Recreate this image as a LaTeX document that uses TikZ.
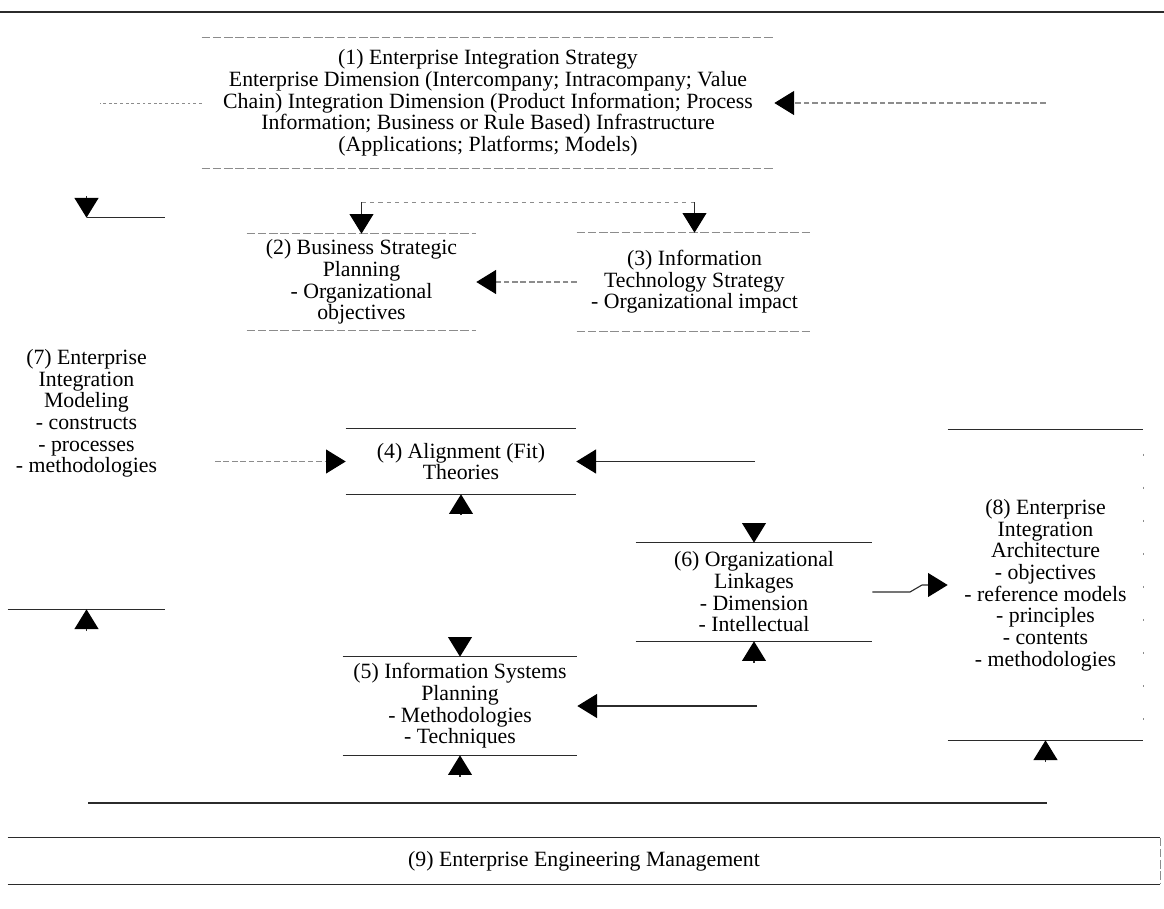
\documentclass[tikz,border=0pt]{standalone}
\usepackage{fontspec}
\setmainfont{Liberation Serif}
\usepackage{tikz}
\usetikzlibrary{arrows.meta}
\definecolor{rulec}{HTML}{2B2B2B}
\definecolor{fadec}{HTML}{8C8C8C}

\begin{document}
\begin{tikzpicture}[x=0.025cm, y=-0.025cm,
  >={Triangle[length=14pt,width=17pt,color=black]},
  box/.style={inner sep=0pt, align=center, font=\fontsize{15.5}{15.4}\selectfont},
  rule/.style={rulec, line width=0.8pt},
  fade/.style={fadec, line width=0.7pt, dash pattern=on 6pt off 2pt},
  link/.style={rulec, line width=0.8pt, ->},
  fadelink/.style={link, fadec, dash pattern=on 4pt off 2pt}]
  \useasboundingbox (0,0) rectangle (1164,908);
  \draw[rulec, line width=1.6pt] (0,12) -- (1164,12);

  \node[box, minimum width=14.3cm, minimum height=3.25cm] (b1) at (488,103)
    {(1) Enterprise Integration Strategy\\
     Enterprise Dimension (Intercompany; Intracompany; Value\\
     Chain) Integration Dimension (Product Information; Process\\
     Information; Business or Rule Based) Infrastructure\\
     (Applications; Platforms; Models)};
  \node[box, minimum width=5.725cm, minimum height=2.4cm] (b2) at (361.5,282)
    {(2) Business Strategic\\ Planning\\ - Organizational\\ objectives};
  \node[box, minimum width=5.875cm, minimum height=2.45cm] (b3) at (694.5,282)
    {(3) Information\\ Technology Strategy\\ - Organizational impact};
  \node[box, minimum width=3.925cm, minimum height=9.775cm] (b7) at (86.5,413.5)
    {(7) Enterprise\\ Integration\\ Modeling\\ - constructs\\ - processes\\ - methodologies};
  \node[box, minimum width=5.75cm, minimum height=1.625cm] (b4) at (461,461.5)
    {(4) Alignment (Fit)\\ Theories};
  \node[box, minimum width=5.9cm, minimum height=2.45cm] (b6) at (754,592)
    {(6) Organizational\\ Linkages\\ - Dimension\\ - Intellectual};
  \node[box, minimum width=4.875cm, minimum height=7.75cm] (b8) at (1045.5,585)
    {(8) Enterprise\\ Integration\\ Architecture\\ - objectives\\ - reference models\\ - principles\\ - contents\\ - methodologies};
  \node[box, minimum width=5.85cm, minimum height=2.45cm] (b5) at (460,706)
    {(5) Information Systems\\ Planning\\ - Methodologies\\ - Techniques};
  \node[box, minimum width=28.8cm, minimum height=1.15cm] (b9) at (584,861)
    {(9) Enterprise Engineering Management};

  \foreach \b in {b1,b2,b3} {
    \draw[fade] (\b.north west) -- (\b.north east);
    \draw[fade] (\b.south west) -- (\b.south east);
  }
  \foreach \b in {b4,b5,b6,b8,b9} {
    \draw[rule] (\b.north west) -- (\b.north east);
    \draw[rule] (\b.south west) -- (\b.south east);
  }
  \draw[rule] (b7.north) -- (b7.north east);
  \draw[rule] (b7.south west) -- (b7.south east);
  \draw[fade] (b9.north east) -- (b9.south east);
  \draw[fadec, line width=0.7pt, dash pattern=on 1.5pt off 22pt] ([yshift=-0.6cm]b8.north east) -- ([yshift=0.4cm]b8.south east);

  \coordinate (w1) at (100,103);
  \coordinate (d7) at (86.5,196);
  \draw[fade, dash pattern=on 2pt off 2pt] (b1.west) -- (w1);
  \draw[link] (d7) -- (b7.north);
  \coordinate (e1) at (1045.5,103);
  \draw[fadelink] (e1) -- (b1.east);

  \coordinate (t2) at (361.5,202);
  \coordinate (t3) at (694.5,202);
  \draw[fade, dash pattern=on 3pt off 3pt] (t2) -- (t3);
  \draw[link] (t2) -- (b2.north);
  \draw[link] (t3) -- (b3.north);
  \draw[fadelink] (b3.west) -- (b2.east);

  \coordinate (s4) at (215,461.5);
  \draw[fadelink] (s4) -- (b4.west);
  \coordinate (u4) at (461,515);
  \draw[link] (u4) -- (b4.south);
  \coordinate (d5) at (460,637);
  \draw[link] (d5) -- (b5.north);
  \coordinate (j4) at (755,461.5);
  \draw[link] (j4) -- (b4.east);
  \coordinate (d6) at (754,523);
  \draw[link] (d6) -- (b6.north);
  \coordinate (j5) at (757,706);
  \draw[link] (j5) -- (b5.east);
  \coordinate (u6) at (754,663);
  \draw[link] (u6) -- (b6.south);
  \coordinate (m8) at (910,592);
  \coordinate (n8) at (922,585);
  \draw[link] (b6.east) -- (m8) -- (n8) -- (b8.west);

  \coordinate (k7) at (88,803);
  \coordinate (k8) at (1047,803);
  \draw[rule] (k7) -- (k8);
  \coordinate (u7) at (86.5,631);
  \draw[link] (u7) -- (b7.south);
  \coordinate (u5) at (460,777);
  \draw[link] (u5) -- (b5.south);
  \coordinate (u8) at (1045.5,762);
  \draw[link] (u8) -- (b8.south);
\end{tikzpicture}
\end{document}
